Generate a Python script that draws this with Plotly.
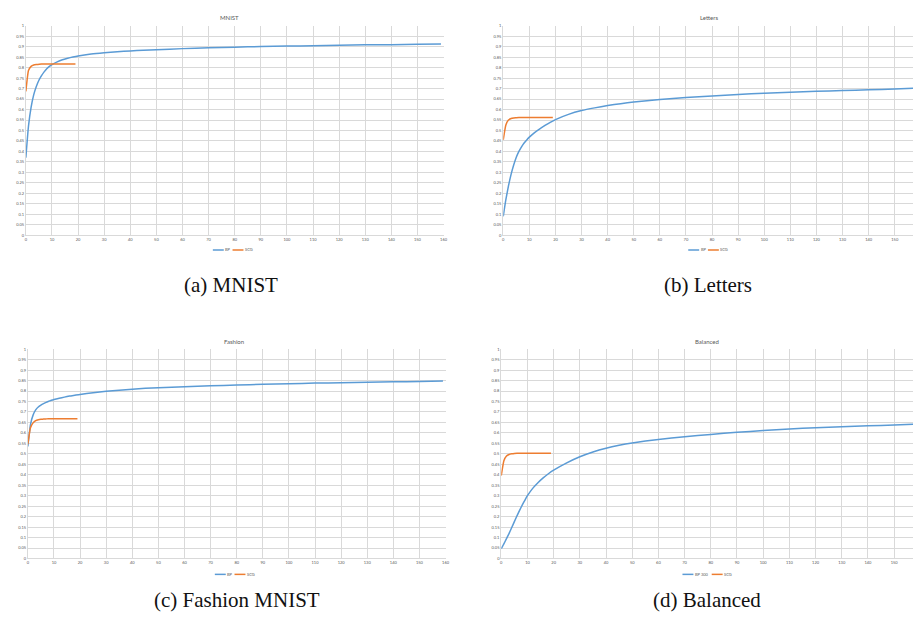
import plotly.graph_objects as go

# ---------------- data ----------------
bp_x = [0, 1, 2, 3, 4, 5, 6, 7, 8, 9, 10, 12, 14, 16, 18, 20, 25, 30, 35, 40, 45,
        50, 60, 70, 80, 90, 100, 110, 120, 130, 140, 150, 159]
scg_x = list(range(0, 20))

mnist_bp = [0.37, 0.52, 0.61, 0.67, 0.71, 0.74, 0.762, 0.78, 0.795, 0.806, 0.815,
            0.828, 0.838, 0.845, 0.851, 0.856, 0.865, 0.871, 0.876, 0.880, 0.883,
            0.886, 0.891, 0.895, 0.898, 0.901, 0.903, 0.905, 0.907, 0.909, 0.910, 0.912, 0.913]
mnist_scg = [0.687, 0.787, 0.806, 0.813, 0.815, 0.816, 0.817, 0.817, 0.817, 0.817,
             0.817, 0.817, 0.817, 0.817, 0.817, 0.817, 0.817, 0.817, 0.817, 0.817]

letters_bp = [0.09, 0.17, 0.235, 0.29, 0.335, 0.372, 0.40, 0.422, 0.44, 0.455, 0.468,
              0.49, 0.508, 0.524, 0.539, 0.552, 0.577, 0.595, 0.608, 0.619, 0.628,
              0.636, 0.648, 0.657, 0.665, 0.672, 0.678, 0.683, 0.687, 0.691, 0.694, 0.698, 0.702]
letters_scg = [0.455, 0.526, 0.55, 0.557, 0.56, 0.561, 0.562, 0.562, 0.562, 0.562,
               0.562, 0.562, 0.562, 0.562, 0.562, 0.562, 0.562, 0.562, 0.562, 0.562]

fashion_bp = [0.535, 0.64, 0.685, 0.71, 0.724, 0.733, 0.74, 0.746, 0.751, 0.756, 0.760,
              0.766, 0.771, 0.776, 0.780, 0.784, 0.792, 0.799, 0.804, 0.809, 0.813,
              0.816, 0.821, 0.825, 0.829, 0.832, 0.835, 0.838, 0.840, 0.842, 0.844, 0.846, 0.848]
fashion_scg = [0.546, 0.625, 0.648, 0.659, 0.663, 0.665, 0.666, 0.667, 0.668, 0.668,
               0.668, 0.668, 0.668, 0.668, 0.668, 0.668, 0.668, 0.668, 0.668, 0.668]

balanced_bp = [0.047, 0.07, 0.095, 0.12, 0.148, 0.176, 0.204, 0.23, 0.255, 0.278, 0.30,
               0.335, 0.362, 0.385, 0.405, 0.422, 0.457, 0.486, 0.509, 0.527, 0.541,
               0.552, 0.569, 0.582, 0.593, 0.603, 0.611, 0.619, 0.625, 0.630, 0.634, 0.638, 0.642]
balanced_scg = [0.396, 0.467, 0.49, 0.497, 0.5, 0.502, 0.503, 0.503, 0.503, 0.503,
                0.503, 0.503, 0.503, 0.503, 0.503, 0.503, 0.503, 0.503, 0.503, 0.503]

panel_titles = ["MNIST", "Letters", "Fashion", "Balanced"]
captions = ["(a) MNIST", "(b) Letters", "(c) Fashion MNIST", "(d) Balanced"]
bp_names = ["BP", "BP", "BP", "BP 300"]
scg_name = "SCG"

y_ticks = [round(i * 0.05, 2) for i in range(21)]
y_ticktext = ["0" if v == 0 else ("1" if v == 1 else f"{v:g}") for v in y_ticks]
x_ticks = list(range(0, 170, 10))

# ---------------- layout ----------------
W, H = 917, 622
BLUE = "#5B9BD5"
ORANGE = "#ED7D31"
GRID = "#D9D9D9"
TXT = "#595959"
FONT = "Lato"

# panel pixel boxes: left, right, top, bottom, x-range max
panels = [
    dict(l=25, r=445, t=23, b=234, xmax=160),
    dict(l=505, r=917, t=23, b=234, xmax=157.0),
    dict(l=27, r=447, t=349, b=560, xmax=160),
    dict(l=503, r=917, t=349, b=560, xmax=157.2),
]
series = [(mnist_bp, mnist_scg), (letters_bp, letters_scg),
          (fashion_bp, fashion_scg), (balanced_bp, balanced_scg)]
title_pos = [(230, 15), (712, 15), (234, 341), (710, 341)]
legend_pos = [(234, 249), (712, 249), (236, 576), (711, 576)]
caption_pos = [(231, 284), (711, 284), (237, 602), (710, 602)]

fig = go.Figure()
layout = dict(width=W, height=H, margin=dict(l=0, r=0, t=0, b=0),
              paper_bgcolor="white", plot_bgcolor="white", showlegend=False)
annotations = []
shapes = []

def px(x):
    return x / W

def py(y):
    return 1 - y / H

for i, (p, (bp, scg)) in enumerate(zip(panels, series)):
    k = "" if i == 0 else str(i + 1)
    xa, ya = "x" + k, "y" + k
    fig.add_trace(go.Scatter(x=bp_x, y=bp, mode="lines", name=bp_names[i],
                             line=dict(color=BLUE, width=1.5, shape="spline", smoothing=0.5),
                             xaxis=xa, yaxis=ya))
    fig.add_trace(go.Scatter(x=scg_x, y=scg, mode="lines", name=scg_name,
                             line=dict(color=ORANGE, width=1.5, shape="spline", smoothing=0.4),
                             xaxis=xa, yaxis=ya))
    layout["xaxis" + k] = dict(
        domain=[px(p["l"]), min(1.0, px(p["r"]))], range=[0, p["xmax"]],
        anchor=ya, tickvals=x_ticks, ticktext=[str(v) for v in x_ticks],
        showgrid=True, gridcolor=GRID, gridwidth=1, zeroline=False,
        showline=True, linecolor=GRID, linewidth=1, ticks="",
        tickfont=dict(family=FONT, size=4, color=TXT))
    layout["yaxis" + k] = dict(
        domain=[py(p["b"]), py(p["t"])], range=[0, 1.0], anchor=xa,
        tickvals=y_ticks, ticktext=y_ticktext,
        showgrid=True, gridcolor=GRID, gridwidth=1, zeroline=False,
        showline=True, linecolor=GRID, linewidth=1, ticks="",
        tickfont=dict(family=FONT, size=4, color=TXT))

    tx, ty = title_pos[i]
    annotations.append(dict(x=px(tx), y=py(ty), xref="paper", yref="paper",
                            xanchor="center", yanchor="middle",
                            text=panel_titles[i], showarrow=False,
                            font=dict(family=FONT, size=6, color=TXT)))
    # legend (line sample + label) below each panel
    cx, cy = legend_pos[i]
    names = [bp_names[i], scg_name]
    colors = [BLUE, ORANGE]
    widths = [11 + 1 + len(n) * 2.4 + 3 for n in names]
    x0 = cx - sum(widths) / 2
    for n, c, w in zip(names, colors, widths):
        shapes.append(dict(type="line", xref="paper", yref="paper",
                           x0=px(x0), x1=px(x0 + 11), y0=py(cy), y1=py(cy),
                           line=dict(color=c, width=1.5)))
        annotations.append(dict(x=px(x0 + 11.5), y=py(cy), xref="paper", yref="paper",
                                xanchor="left", yanchor="middle", borderpad=0,
                                text=n, showarrow=False,
                                font=dict(family=FONT, size=4, color=TXT)))
        x0 += w
    kx, ky = caption_pos[i]
    annotations.append(dict(x=px(kx), y=py(ky), xref="paper", yref="paper",
                            xanchor="center", yanchor="middle",
                            text=captions[i], showarrow=False,
                            font=dict(family="Liberation Serif", size=21, color="#111111")))

layout["annotations"] = annotations
layout["shapes"] = shapes
fig.update_layout(**layout)
fig.write_html("out.html", config={"displayModeBar": False},
               post_script="document.body.style.margin='0';document.body.style.overflow='hidden';")
